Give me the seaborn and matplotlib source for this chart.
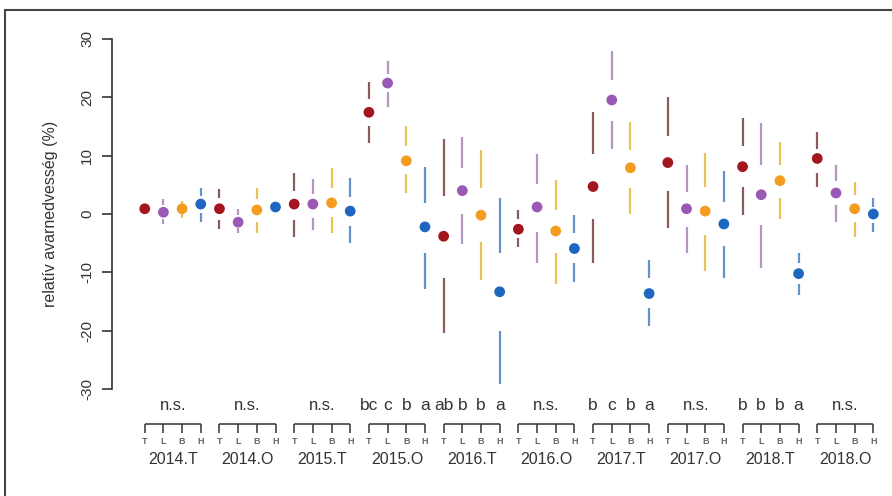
import numpy as np
import pandas as pd
import matplotlib
matplotlib.use("Agg")
import matplotlib.pyplot as plt
import matplotlib.transforms as mtransforms
import seaborn as sns

# groups (year.season) and the four treatments inside each group
groups = ["2014.T", "2014.O", "2015.T", "2015.O", "2016.T",
          "2016.O", "2017.T", "2017.O", "2018.T", "2018.O"]
treatments = ["T", "L", "B", "H"]

# median of each treatment, group by group (T, L, B, H)
median = [0.9, 0.3, 0.9, 1.7,
          0.9, -1.4, 0.7, 1.2,
          1.7, 1.7, 1.9, 0.5,
          17.4, 22.4, 9.1, -2.2,
          -3.8, 4.0, -0.2, -13.3,
          -2.6, 1.2, -2.9, -5.9,
          4.7, 19.5, 7.9, -13.6,
          8.8, 0.9, 0.5, -1.7,
          8.1, 3.3, 5.7, -10.2,
          9.5, 3.6, 0.9, 0.0]
# upper whisker end and upper quartile
whisker_hi = [0.9, 2.6, 2.2, 4.5,
              4.3, 0.9, 4.5, 1.2,
              7.1, 6.0, 7.8, 6.2,
              22.6, 26.2, 15.0, 8.1,
              12.8, 13.1, 10.9, 2.8,
              0.7, 10.3, 5.9, -0.2,
              17.4, 27.8, 15.7, -7.9,
              20.0, 8.3, 10.5, 7.4,
              16.4, 15.5, 12.4, -6.7,
              14.0, 8.4, 5.5, 2.8]
q3 = [0.9, 1.6, 1.6, 3.0,
      2.8, -0.2, 2.6, 1.2,
      4.0, 3.4, 4.5, 2.9,
      19.7, 24.0, 11.7, 1.9,
      3.1, 7.9, 4.5, -6.6,
      -0.9, 5.2, 0.7, -3.3,
      10.2, 22.9, 11.0, -11.0,
      13.4, 3.8, 4.7, 2.1,
      11.6, 8.3, 8.3, -8.4,
      11.2, 5.7, 3.3, 1.2]
# lower quartile and lower whisker end
q1 = [0.9, -0.9, 0.2, 0.2,
      -1.0, -2.4, -1.4, 1.2,
      -1.0, -0.7, -0.5, -2.1,
      15.0, 20.9, 6.9, -6.7,
      -10.9, 0.0, -4.8, -20.0,
      -4.1, -3.1, -6.7, -8.4,
      -0.9, 15.9, 4.5, -16.0,
      4.0, -2.2, -3.6, -5.5,
      4.7, -1.9, 2.8, -11.9,
      7.1, 1.6, -1.4, -1.6]
whisker_lo = [0.9, -1.7, -0.7, -1.4,
              -2.6, -3.3, -3.3, 1.2,
              -4.0, -2.8, -3.3, -5.0,
              12.2, 18.3, 3.6, -12.8,
              -20.3, -5.2, -11.2, -29.1,
              -5.7, -8.3, -11.9, -11.7,
              -8.4, 11.2, 0.0, -19.1,
              -2.4, -6.7, -9.7, -10.9,
              -0.2, -9.3, -0.9, -13.8,
              4.7, -1.4, -4.0, -3.1]

# significance letters per group ("n.s." or one letter set per treatment)
letters = ["n.s.", "n.s.", "n.s.", ["bc", "c", "b", "a"], ["ab", "b", "b", "a"],
           "n.s.", ["b", "c", "b", "a"], "n.s.", ["b", "b", "b", "a"], "n.s."]

colors = {"T": "#a3161e", "L": "#9b59b6", "B": "#f39c1f", "H": "#1f66c1"}
whisker_colors = {"T": "#8c5c5c", "L": "#b496c4", "B": "#e6c257", "H": "#6493cc"}

df = pd.DataFrame({
    "pos": np.arange(len(median)),
    "group": np.repeat(groups, len(treatments)),
    "treatment": treatments * len(groups),
    "median": median,
    "whi": whisker_hi,
    "q3": q3,
    "q1": q1,
    "wlo": whisker_lo,
})

sns.set_style("ticks")
plt.rcParams["font.family"] = ["Liberation Sans", "DejaVu Sans"]

fig = plt.figure(figsize=(8.92, 4.96), dpi=100)
ax = fig.add_axes([0.1256, 0.1795, 0.8744, 0.778])

# whiskers of the tufte-style boxplot: line from whisker end to quartile
for t in treatments:
    sub = df[df["treatment"] == t]
    ax.vlines(sub["pos"], sub["q3"], sub["whi"], color=whisker_colors[t], lw=1.6)
    ax.vlines(sub["pos"], sub["wlo"], sub["q1"], color=whisker_colors[t], lw=1.6)

sns.scatterplot(data=df, x="pos", y="median", hue="treatment", palette=colors,
                s=60, edgecolor="none", legend=False, ax=ax, zorder=3)

ax.set_xlim(-1.75, 40.0)
ax.set_ylim(-33, 33)
ax.set_yticks([-30, -20, -10, 0, 10, 20, 30])
ax.set_yticklabels(["-30", "-20", "-10", "0", "10", "20", "30"], rotation=90,
                   va="center", fontsize=11, color="#333333")
ax.tick_params(axis="y", length=7, width=1.2, color="#333333", pad=6)
ax.set_xticks([])
ax.set_xlabel("")
ax.set_ylabel("relatív avarnedvesség (%)", fontsize=11.5, color="#333333", labelpad=16)
for side in ["top", "right", "bottom"]:
    ax.spines[side].set_visible(False)
ax.spines["left"].set_bounds(-30, 30)
ax.spines["left"].set_linewidth(1.2)
ax.spines["left"].set_color("#333333")

# annotations below the plot area: x in data, y in figure fraction
trans = mtransforms.blended_transform_factory(ax.transData, fig.transFigure)
for g, name in enumerate(groups):
    idx = np.arange(g * 4, g * 4 + 4)
    center = idx.mean()
    sig = letters[g]
    if isinstance(sig, str):
        ax.text(center, 0.183, sig, transform=trans, ha="center", va="center",
                fontsize=12, color="#333333", clip_on=False)
    else:
        for i, s in zip(idx, sig):
            ax.text(i, 0.183, s, transform=trans, ha="center", va="center",
                    fontsize=12.5, color="#333333", clip_on=False)
    ax.plot([idx[0], idx[-1]], [0.146, 0.146], transform=trans, color="#333333",
            lw=1.1, clip_on=False, solid_capstyle="butt")
    for i in idx:
        ax.plot([i, i], [0.146, 0.128], transform=trans, color="#333333",
                lw=1.1, clip_on=False, solid_capstyle="butt")
    for i, t in zip(idx, treatments):
        ax.text(i, 0.109, t, transform=trans, ha="center", va="center",
                fontsize=6.5, fontweight="bold", color="#666666", clip_on=False)
    ax.text(center, 0.074, name, transform=trans, ha="center", va="center",
            fontsize=11.5, color="#333333", clip_on=False)

# outer frame line (left and top) around the figure
fig.add_artist(plt.Line2D([0.006, 0.006], [0.0, 0.98], transform=fig.transFigure,
                          color="#444444", lw=1.5))
fig.add_artist(plt.Line2D([0.006, 1.0], [0.98, 0.98], transform=fig.transFigure,
                          color="#444444", lw=1.5))

fig.savefig("out.png", dpi=100)
